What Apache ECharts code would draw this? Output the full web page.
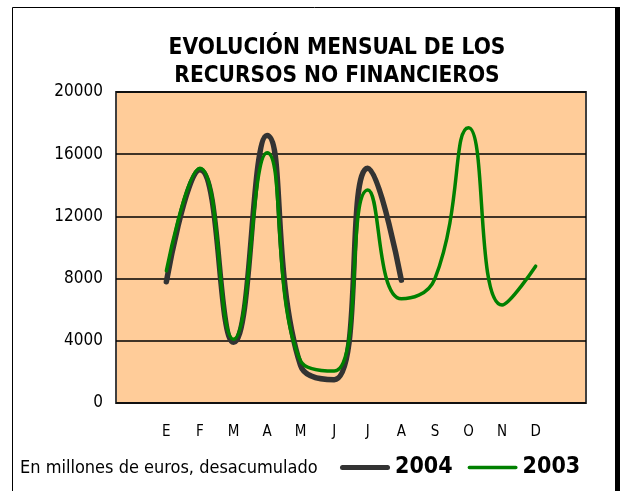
<!DOCTYPE html>
<html>
<head>
<meta charset="utf-8">
<script src="https://cdn.jsdelivr.net/npm/echarts@6/dist/echarts.min.js"></script>
<style>
  html, body { margin: 0; padding: 0; background: #fff; }
  #main { width: 623px; height: 491px; }
</style>
</head>
<body>
<div id="main"></div>
<script>
// meses (con huecos vacios a cada lado, como en el original)
const months = ['E', 'F', 'M', 'A', 'M', 'J', 'J', 'A', 'S', 'O', 'N', 'D']
const yTicks = [0, 4000, 8000, 12000, 16000, 20000]
const data2004 = [7800, 15000, 3900, 17200, 2400, 1500, 15100, 7900]
const data2003 = [8500, 15100, 4100, 16100, 2700, 2050, 13700, 6700, 8000, 17700, 6300, 8800]

const font = '"DejaVu Sans Condensed", "DejaVu Sans", sans-serif'

// pad with an empty category at both ends
function pad(arr) {
    let out = [null]
    for (let i = 0; i < months.length; i++) {
        out.push(i < arr.length ? arr[i] : null)
    }
    out.push(null)
    return out
}

const myChart = echarts.init(document.getElementById('main'))

const option = {
    backgroundColor: '#fff',
    animation: false,
    title: {
        text: 'EVOLUCIÓN MENSUAL DE LOS\nRECURSOS NO FINANCIEROS',
        left: 332,
        top: 29,
        textAlign: 'center',
        textStyle: {
            fontFamily: font,
            fontWeight: 'bold',
            fontSize: 22.5,
            lineHeight: 28,
            color: '#000'
        }
    },
    grid: {
        left: 116,
        right: 37,
        top: 92,
        bottom: 88,
        show: true,
        backgroundColor: '#FFCC99',
        borderColor: '#404040',
        borderWidth: 2
    },
    legend: {
        left: 335,
        top: 451,
        itemWidth: 50,
        itemHeight: 5,
        itemGap: 15,
        data: [
            { name: '2004', icon: 'path://M2.5,0 H47.5 A2.5,2.5 0 0 1 47.5,5 H2.5 A2.5,2.5 0 0 1 2.5,0 Z' },
            { name: '2003', icon: 'path://M0,0 L0.01,0 L0.01,5 L0,5 Z M1.75,0.75 H48.25 A1.75,1.75 0 0 1 48.25,4.25 H1.75 A1.75,1.75 0 0 1 1.75,0.75 Z' }
        ],
        textStyle: {
            fontFamily: font,
            fontWeight: 'bold',
            fontSize: 23,
            color: '#000'
        }
    },
    xAxis: {
        type: 'category',
        data: [''].concat(months, ['']),
        axisLine: { show: false },
        axisTick: { show: false },
        axisLabel: {
            margin: 22,
            interval: 0,
            fontFamily: font,
            fontSize: 15,
            color: '#000'
        }
    },
    yAxis: {
        type: 'value',
        min: yTicks[0],
        max: yTicks[yTicks.length - 1],
        interval: 4000,
        axisLine: { show: false },
        axisTick: { show: false },
        axisLabel: {
            margin: 13,
            fontFamily: font,
            fontSize: 17,
            color: '#000',
            formatter: v => String(v)
        },
        splitLine: {
            lineStyle: { color: '#000', width: 1.5 }
        }
    },
    graphic: [
        {
            type: 'rect',
            shape: { x: 12.5, y: 7.5, width: 604, height: 520 },
            style: { fill: null, stroke: '#000', lineWidth: 1 },
            silent: true
        },
        {
            type: 'rect',
            shape: { x: 615, y: 7, width: 5, height: 500 },
            style: { fill: '#000' },
            silent: true
        },
        {
            type: 'text',
            left: 20,
            top: 459,
            style: {
                text: 'En millones de euros, desacumulado',
                fontFamily: font,
                fontSize: 18,
                fill: '#000'
            }
        }
    ],
    series: [
        {
            name: '2004',
            type: 'line',
            smooth: 0.5,
            symbol: 'none',
            data: pad(data2004),
            lineStyle: { color: '#333333', width: 5.5, cap: 'round' },
            itemStyle: { color: '#333333' }
        },
        {
            name: '2003',
            type: 'line',
            smooth: 0.5,
            symbol: 'none',
            data: pad(data2003),
            lineStyle: { color: '#008000', width: 3.5, cap: 'round' },
            itemStyle: { color: '#008000' }
        }
    ]
}

myChart.setOption(option)
</script>
</body>
</html>
